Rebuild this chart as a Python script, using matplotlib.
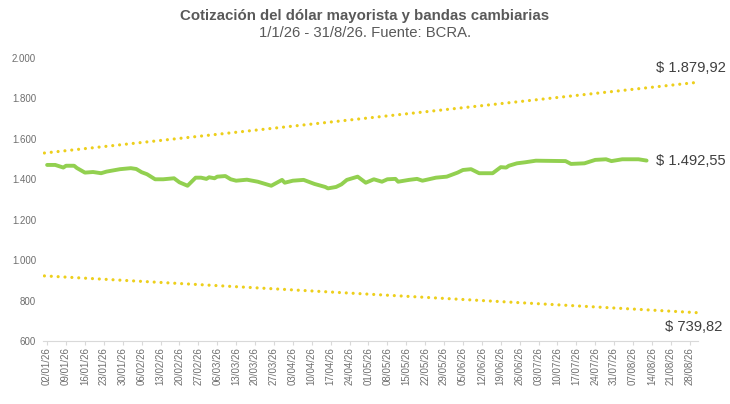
import matplotlib
matplotlib.use('Agg')
import matplotlib.pyplot as plt
import matplotlib.dates as mdates
import matplotlib.ticker as mticker
import pandas as pd

plt.rcParams['font.family'] = ['Liberation Sans', 'DejaVu Sans']

# ---- data ----
fx_dates = ['2026-01-02', '2026-01-05', '2026-01-08', '2026-01-09', '2026-01-12', '2026-01-13',
            '2026-01-16', '2026-01-19', '2026-01-22', '2026-01-24', '2026-01-29', '2026-02-02',
            '2026-02-04', '2026-02-06', '2026-02-08', '2026-02-11', '2026-02-14', '2026-02-18',
            '2026-02-20', '2026-02-23', '2026-02-26', '2026-02-28', '2026-03-02', '2026-03-03',
            '2026-03-05', '2026-03-06', '2026-03-09', '2026-03-11', '2026-03-13', '2026-03-17',
            '2026-03-21', '2026-03-26', '2026-03-30', '2026-03-31', '2026-04-03', '2026-04-07',
            '2026-04-11', '2026-04-15', '2026-04-16', '2026-04-19', '2026-04-21', '2026-04-23',
            '2026-04-27', '2026-04-30', '2026-05-03', '2026-05-06', '2026-05-08', '2026-05-11',
            '2026-05-12', '2026-05-16', '2026-05-19', '2026-05-21', '2026-05-26', '2026-05-30',
            '2026-06-03', '2026-06-05', '2026-06-08', '2026-06-11', '2026-06-16', '2026-06-19',
            '2026-06-21', '2026-06-22', '2026-06-25', '2026-06-28', '2026-07-02', '2026-07-13',
            '2026-07-15', '2026-07-20', '2026-07-24', '2026-07-28', '2026-07-30', '2026-08-03',
            '2026-08-09', '2026-08-12']
fx_values = [1471, 1471, 1458, 1467, 1467, 1456,
             1433, 1436, 1430, 1438, 1450, 1455,
             1451, 1435, 1425, 1400, 1400, 1405,
             1385, 1368, 1408, 1408, 1402, 1410,
             1405, 1413, 1416, 1400, 1393, 1398,
             1388, 1368, 1397, 1383, 1393, 1397,
             1377, 1362, 1355, 1362, 1375, 1397,
             1413, 1383, 1400, 1388, 1400, 1402,
             1388, 1397, 1402, 1393, 1408, 1413,
             1433, 1446, 1450, 1430, 1430, 1460,
             1458, 1467, 1479, 1484, 1492, 1490,
             1476, 1479, 1496, 1499, 1490, 1499,
             1499, 1492.55]

band_dates = ['2026-01-01', '2026-08-31']
upper_band = [1530, 1879.92]
lower_band = [922, 739.82]

tick_first = '2026-01-02'
tick_last = '2026-08-28'
y_ticks = [600, 800, 1000, 1200, 1400, 1600, 1800, 2000]

title_text = 'Cotización del dólar mayorista y bandas cambiarias'
subtitle_text = '1/1/26 - 31/8/26. Fuente: BCRA.'
upper_label = '$ 1.879,92'
lower_label = '$ 739,82'
fx_label = '$ 1.492,55'

# ---- plot ----
fx_d = pd.to_datetime(fx_dates)
band_d = pd.to_datetime(band_dates)
ticks = pd.date_range(tick_first, tick_last, freq='7D')

fig = plt.figure(figsize=(7.3, 4.04), dpi=100)
ax = fig.add_axes([0.059, 0.156, 0.897, 0.7004])

gold = '#EDCF1C'
green = '#92D050'
txt = '#595959'
tick_txt = '#6E6E6E'

dot_style = (0, (0.001, 2.15))
ax.plot(band_d, upper_band, color=gold, lw=2.3, linestyle=dot_style,
        dash_capstyle='round', zorder=2)
ax.plot(band_d, lower_band, color=gold, lw=2.3, linestyle=dot_style,
        dash_capstyle='round', zorder=2)
ax.plot(fx_d, fx_values, color=green, lw=2.8, solid_joinstyle='round',
        solid_capstyle='round', zorder=3)

ax.set_xlim(pd.Timestamp('2025-12-31 12:00'), pd.Timestamp('2026-08-31 00:00'))
ax.set_ylim(600, 2000)
ax.set_yticks(y_ticks)
ax.yaxis.set_major_formatter(mticker.FuncFormatter(lambda v, p: f'{int(v):,}'.replace(',', '.')))
ax.set_xticks(ticks)
ax.xaxis.set_major_formatter(mdates.DateFormatter('%d/%m/%y'))

for s in ['top', 'right', 'left']:
    ax.spines[s].set_visible(False)
ax.spines['bottom'].set_color('#D9D9D9')
ax.spines['bottom'].set_linewidth(0.8)

ax.tick_params(axis='y', length=0, pad=5, labelsize=7.0, labelcolor=tick_txt)
ax.tick_params(axis='x', length=3, width=0.8, color='#D9D9D9', pad=1.5,
               labelsize=7.0, labelcolor=tick_txt, labelrotation=90)

lab_kw = dict(fontsize=10.6, color='#404040', textcoords='offset points')
ax.annotate(upper_label, xy=(band_d[-1], upper_band[-1]), xytext=(-5, 10),
            ha='center', va='center', **lab_kw)
ax.annotate(lower_label, xy=(band_d[-1], lower_band[-1]), xytext=(-3, -10),
            ha='center', va='center', **lab_kw)
ax.annotate(fx_label, xy=(fx_d[-1], fx_values[-1]), xytext=(6.5, 0),
            ha='left', va='center', **lab_kw)

fig.text(0.5, 0.960, title_text, ha='center', va='center', fontsize=10.8,
         fontweight='bold', color=txt)
fig.text(0.5, 0.918, subtitle_text, ha='center', va='center', fontsize=10.7, color=txt)

fig.savefig('out.png', dpi=100)
